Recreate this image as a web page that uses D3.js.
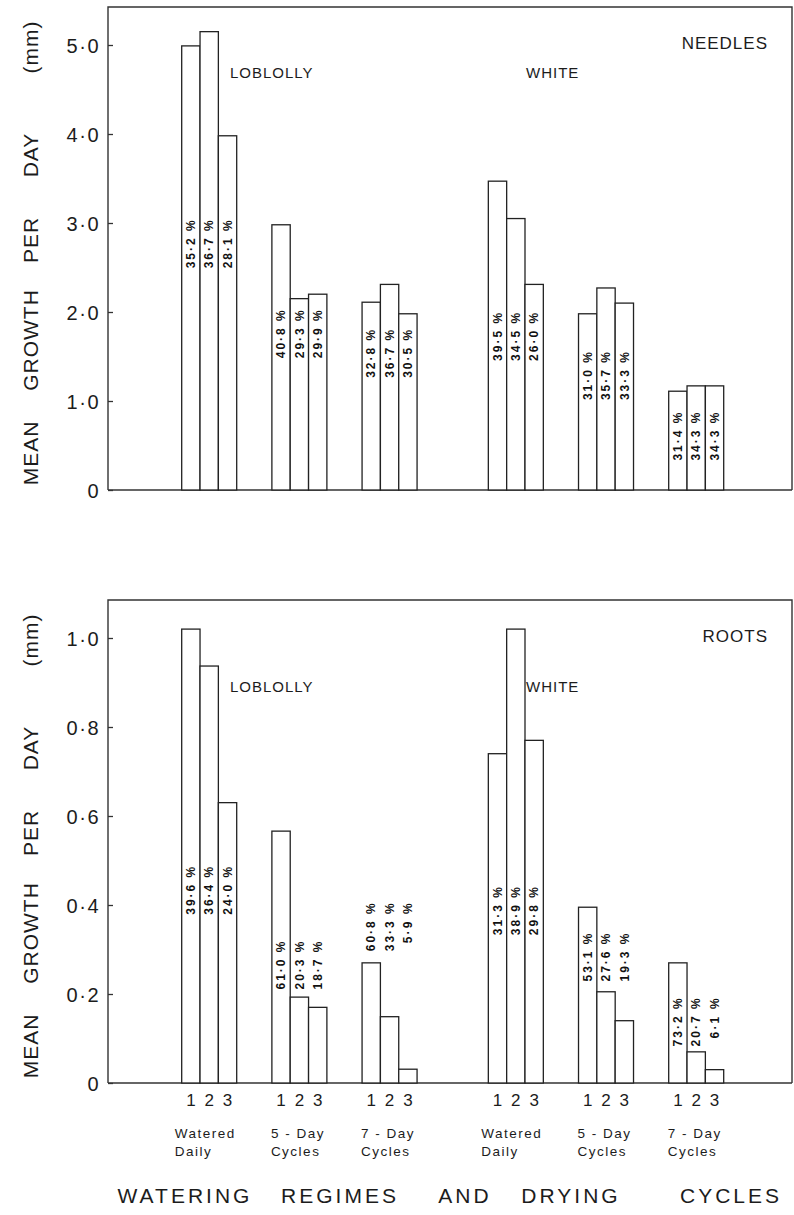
<!DOCTYPE html>
<html>
<head>
<meta charset="utf-8">
<script src="https://cdn.jsdelivr.net/npm/d3@7"></script>
<style>
  html, body { margin: 0; padding: 0; background: #fff; }
  svg { display: block; font-family: "Liberation Sans", Arial, sans-serif; }
</style>
</head>
<body>
<svg id="chart" width="794" height="1215"></svg>
<script>
// ---- data ----
const speciesNames = ["LOBLOLLY", "WHITE"];
const regimes = ["Watered Daily", "5 - Day Cycles", "7 - Day Cycles"];
const regimeLines = [["Watered", "Daily"], ["5 - Day", "Cycles"], ["7 - Day", "Cycles"]];
const treatments = ["1", "2", "3"];

// mean growth per day (mm): [regime][treatment]
const needlesLoblolly = [[4.99, 5.15, 3.98], [2.98, 2.15, 2.20], [2.11, 2.31, 1.98]];
const needlesWhite    = [[3.47, 3.05, 2.31], [1.98, 2.27, 2.10], [1.11, 1.17, 1.17]];
const rootsLoblolly   = [[1.02, 0.937, 0.63], [0.566, 0.193, 0.17], [0.27, 0.149, 0.031]];
const rootsWhite      = [[0.74, 1.02, 0.77], [0.395, 0.205, 0.14], [0.27, 0.07, 0.03]];

// share of each regime's total growth (%)
const needlesPctLoblolly = [["35·2", "36·7", "28·1"], ["40·8", "29·3", "29·9"], ["32·8", "36·7", "30·5"]];
const needlesPctWhite    = [["39·5", "34·5", "26·0"], ["31·0", "35·7", "33·3"], ["31·4", "34·3", "34·3"]];
const rootsPctLoblolly   = [["39·6", "36·4", "24·0"], ["61·0", "20·3", "18·7"], ["60·8", "33·3", "5·9"]];
const rootsPctWhite      = [["31·3", "38·9", "29·8"], ["53·1", "27·6", "19·3"], ["73·2", "20·7", "6·1"]];

const needleTicks = [0, 1, 2, 3, 4, 5];
const needleTickLabels = ["0", "1·0", "2·0", "3·0", "4·0", "5·0"];
const rootTicks = [0, 0.2, 0.4, 0.6, 0.8, 1.0];
const rootTickLabels = ["0", "0·2", "0·4", "0·6", "0·8", "1·0"];

const yTitleWords = ["MEAN", "GROWTH", "PER", "DAY", "(mm)"];
const xTitleWords = ["WATERING", "REGIMES", "AND", "DRYING", "CYCLES"];

// where the top of each group's % labels sits, in axis units: [species][regime]
const needlesPctTop = [[3.03, 2.02, 1.80], [1.99, 1.55, 0.87]];
const rootsPctTop   = [[0.486, 0.318, 0.404], [0.44, 0.336, 0.19]];

// ---- layout ----
const svg = d3.select("#chart");
const axisX = 108, rightX = 792;
const ink = "#1c1c1c";

// group slot: loblolly regimes at 0,1,2 ; white regimes at 3.4,4.4,5.4
const slot = (s, r) => s * 3.4 + r;
const xGroup = d3.scaleLinear().domain([0, 5.4]).range([181.7, 668.7]);
const xBar = d3.scaleBand().domain(treatments).range([0, 55]).padding(0);

const panels = [
  {
    name: "NEEDLES", top: 7,
    y: d3.scaleLinear().domain([0, 5]).range([490, 45]),
    ticks: needleTicks, tickLabels: needleTickLabels,
    values: [needlesLoblolly, needlesWhite],
    pcts: [needlesPctLoblolly, needlesPctWhite],
    pctTop: needlesPctTop,
    speciesY: 72, nameY: 42
  },
  {
    name: "ROOTS", top: 600,
    y: d3.scaleLinear().domain([0, 1]).range([1083, 638]),
    ticks: rootTicks, tickLabels: rootTickLabels,
    values: [rootsLoblolly, rootsWhite],
    pcts: [rootsPctLoblolly, rootsPctWhite],
    pctTop: rootsPctTop,
    speciesY: 686, nameY: 635
  }
];

panels.forEach((p) => {
  const g = svg.append("g");
  const y0 = p.y(0);

  // frame: left axis, top rule, right rule, baseline
  const frame = g.append("g").attr("stroke", "#333").attr("stroke-width", 1.4).attr("fill", "none");
  frame.append("path").attr("d", `M${axisX},${y0}V${p.top}H${rightX}V${y0}`);
  frame.append("line").attr("x1", axisX).attr("x2", rightX).attr("y1", y0).attr("y2", y0);

  // y axis ticks + labels
  const axis = d3.axisRight(p.y)
    .tickValues(p.ticks)
    .tickSize(5)
    .tickFormat(() => "");
  const ag = g.append("g").attr("transform", `translate(${axisX},0)`).call(axis);
  ag.select(".domain").remove();
  ag.selectAll(".tick line").attr("stroke", "#333").attr("stroke-width", 1.3);
  ag.selectAll(".tick").append("text")
    .attr("x", -8).attr("dy", "0.36em")
    .attr("text-anchor", "end")
    .attr("fill", ink)
    .attr("font-size", 20)
    .attr("letter-spacing", 1.5)
    .text((d, i) => p.tickLabels[i]);

  // bars
  const rows = [];
  p.values.forEach((sp, s) => sp.forEach((grp, r) => grp.forEach((v, t) => {
    rows.push({ s, r, t: treatments[t], v, pct: p.pcts[s][r][t], top: p.pctTop[s][r] });
  })));

  const bx = d => xGroup(slot(d.s, d.r)) + xBar(d.t);
  g.append("g").selectAll("rect").data(rows).join("rect")
    .attr("x", bx)
    .attr("y", d => p.y(d.v))
    .attr("width", xBar.bandwidth())
    .attr("height", d => y0 - p.y(d.v))
    .attr("fill", "#fff")
    .attr("stroke", "#222")
    .attr("stroke-width", 1.3);

  // rotated % labels, tops aligned within each group
  g.append("g").selectAll("text").data(rows).join("text")
    .attr("transform", d => `translate(${bx(d) + xBar.bandwidth() / 2 + 4.2},${p.y(d.top)}) rotate(-90)`)
    .attr("text-anchor", "end")
    .attr("font-size", 12)
    .attr("font-weight", "bold")
    .attr("fill", "#111")
    .attr("textLength", d => (d.pct.length + 2) * 8)
    .attr("lengthAdjust", "spacing")
    .text(d => d.pct + " %");

  // species names and panel name
  g.append("text").attr("x", 230).attr("y", p.speciesY + 6)
    .attr("font-size", 15).attr("letter-spacing", 1).attr("fill", ink).text(speciesNames[0]);
  g.append("text").attr("x", 526).attr("y", p.speciesY + 6)
    .attr("font-size", 15).attr("letter-spacing", 1).attr("fill", ink).text(speciesNames[1]);
  g.append("text").attr("x", 768).attr("y", p.nameY + 7).attr("text-anchor", "end")
    .attr("font-size", 17).attr("letter-spacing", 1).attr("fill", ink).text(p.name);

  // y axis title, one word at a time along the axis
  const titleCentres = [453, 340, 240, 155, 47];
  yTitleWords.forEach((w, i) => {
    g.append("text")
      .attr("transform", `translate(38,${titleCentres[i] + (p.top - 7)}) rotate(-90)`)
      .attr("text-anchor", "middle")
      .attr("font-size", 21)
      .attr("letter-spacing", 1)
      .attr("fill", ink)
      .text(w);
  });
});

// x-axis labels under the roots panel
const yBottom = panels[1].y(0);
const xl = svg.append("g");
speciesNames.forEach((sn, s) => regimes.forEach((rg, r) => {
  const gx = xGroup(slot(s, r));
  treatments.forEach(t => {
    xl.append("text")
      .attr("x", gx + xBar(t) + xBar.bandwidth() / 2)
      .attr("y", yBottom + 23)
      .attr("text-anchor", "middle")
      .attr("font-size", 17).attr("fill", ink)
      .text(t);
  });
  regimeLines[r].forEach((line, li) => {
    xl.append("text")
      .attr("x", gx - (r === 0 ? 7 : 1))
      .attr("y", yBottom + 55 + li * 18)
      .attr("text-anchor", "start")
      .attr("font-size", 13.5).attr("letter-spacing", 1.5).attr("fill", ink)
      .text(line);
  });
}));

// x title
const xTitleCentres = [185, 340, 465, 571, 731];
xTitleWords.forEach((w, i) => {
  xl.append("text")
    .attr("x", xTitleCentres[i]).attr("y", 1203)
    .attr("text-anchor", "middle")
    .attr("font-size", 21).attr("letter-spacing", 3).attr("fill", ink)
    .text(w);
});
</script>
</body>
</html>
